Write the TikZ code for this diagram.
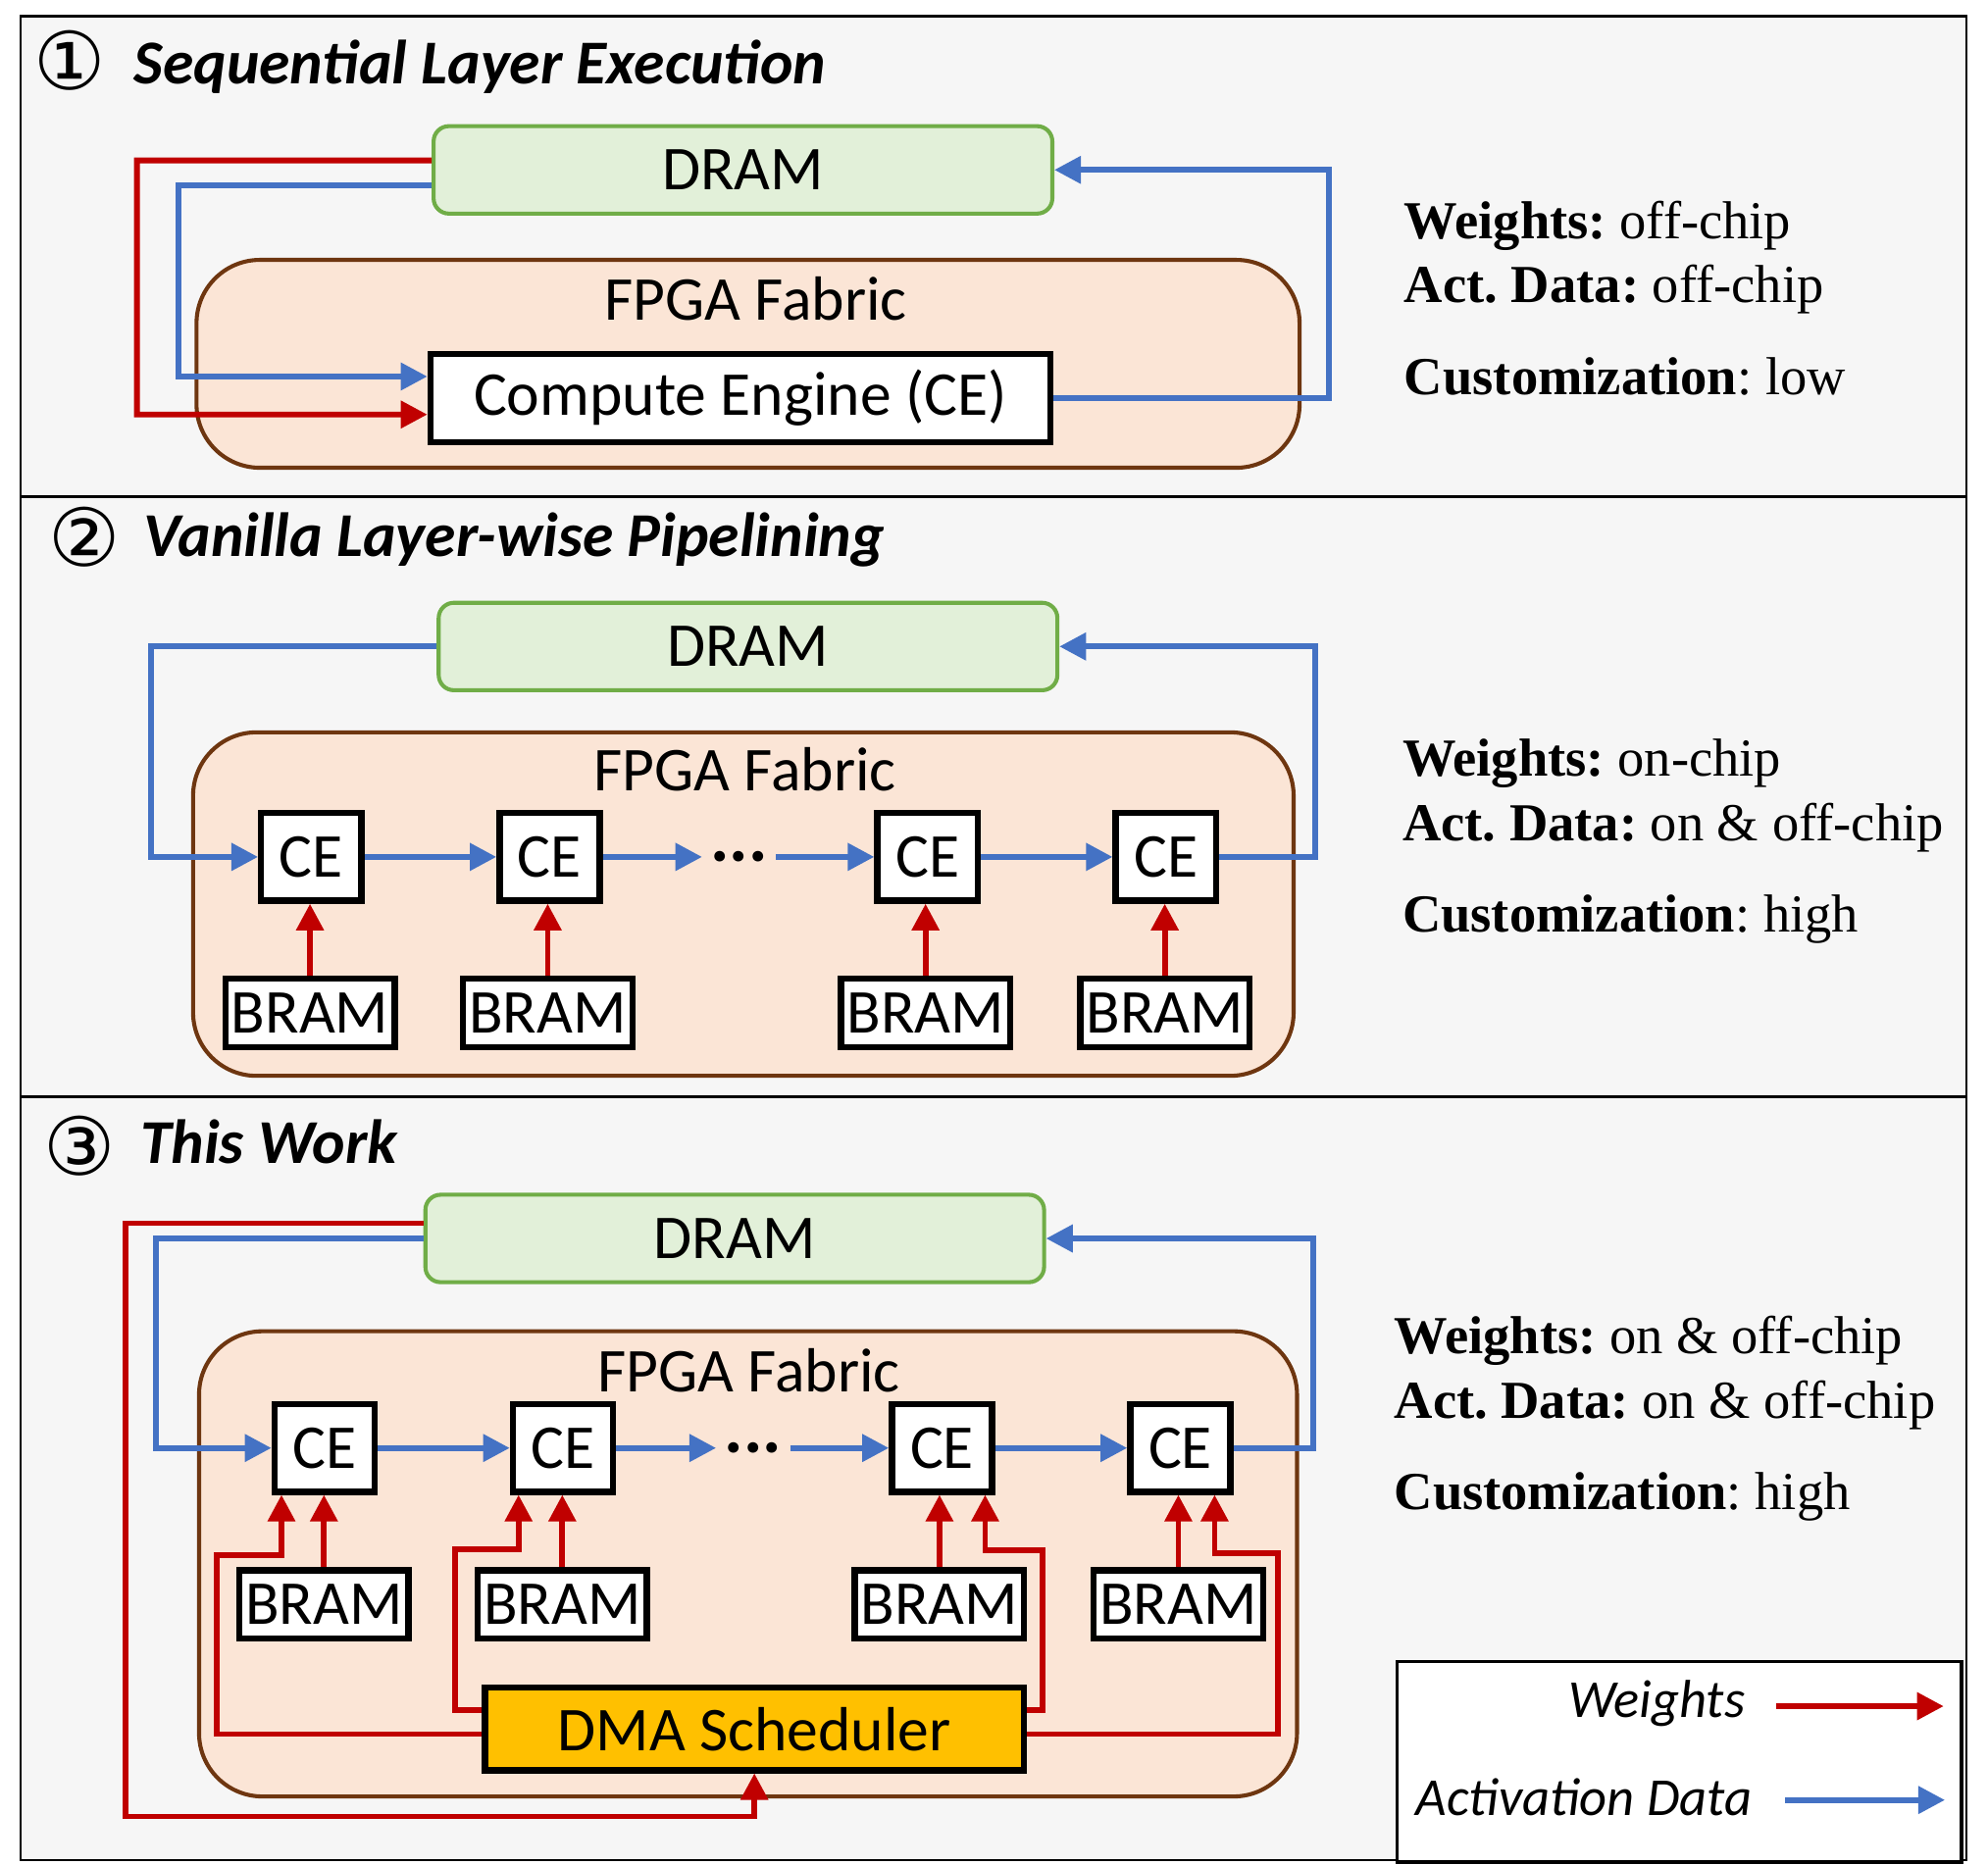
\documentclass[tikz,border=0pt]{standalone}
\usepackage{fontspec}
\setmainfont{Carlito}
\newfontfamily\specfont{Liberation Serif}
\newfontfamily\numfont{DejaVu Sans}
\usetikzlibrary{arrows.meta}
\frenchspacing

\definecolor{wred}{HTML}{C00000}
\definecolor{ablue}{HTML}{4472C4}
\definecolor{dramline}{HTML}{70AD47}
\definecolor{dramfill}{HTML}{E2F0D9}
\definecolor{fabline}{HTML}{6E3610}
\definecolor{fabfill}{HTML}{FBE5D6}
\definecolor{dmafill}{HTML}{FFC000}
\definecolor{panelbg}{HTML}{F6F6F6}

\begin{document}
\begin{tikzpicture}
[font=\fontsize{14}{17}\selectfont,
every node/.style={inner sep=0pt},
dram/.style={draw=dramline, fill=dramfill, line width=0.9pt, rounded corners=0.12cm,
  minimum width=4.88cm, minimum height=0.69cm},
fabric/.style={draw=fabline, fill=fabfill, line width=0.9pt, rounded corners=0.5cm},
cebox/.style={draw, fill=white, line width=1.4pt, minimum width=0.79cm, minimum height=0.69cm},
brambox/.style={draw, fill=white, line width=1.4pt, minimum width=1.335cm, minimum height=0.54cm},
dmabox/.style={draw, fill=dmafill, line width=1.4pt, minimum width=4.25cm, minimum height=0.65cm},
dotsbox/.style={inner sep=0.06cm, font=\bfseries\fontsize{16}{16}\selectfont},
wline/.style={draw=wred, line width=1.3pt, -{Triangle[length=0.21cm,width=0.21cm]}},
aline/.style={draw=ablue, line width=1.3pt, -{Triangle[length=0.21cm,width=0.21cm]}},
num/.style={font=\numfont\fontsize{18}{18}\selectfont},
title/.style={anchor=base west, font=\bfseries\itshape\fontsize{14}{17}\selectfont},
spec/.style={anchor=base west, font=\specfont\fontsize{12}{14}\selectfont}]

\useasboundingbox (0,0) rectangle (15.68,-14.71);
\draw[line width=0.6pt, fill=panelbg] (0.162,-0.129) rectangle (15.51,-14.675);
\draw[line width=0.6pt] (0.162,-3.92) -- (15.51,-3.92);
\draw[line width=0.6pt] (0.162,-8.65) -- (15.51,-8.65);

% sequential layer execution
\node[num] (n1) at (0.55,-0.48) {①};
\node[title] (t1) at (1.05,-0.66) {Sequential Layer Execution};
\node[fabric, minimum width=8.70cm, minimum height=1.64cm] (fabA) at (5.90,-2.87) {};
\node[anchor=base] (fabAl) at (5.96,-2.527) {FPGA Fabric};
\node[dram] (dramA) at (5.86,-1.34) {DRAM};
\node[cebox, minimum width=4.89cm, minimum height=0.695cm] (ceA) at (5.84,-3.14) {Compute Engine (CE)};
\draw[wline] ([yshift=0.075cm]dramA.west) -| (1.08,-3.27) -- ([yshift=-0.13cm]ceA.west);
\draw[aline] ([yshift=-0.12cm]dramA.west) -| (1.41,-2.97) -- ([yshift=0.17cm]ceA.west);
\draw[aline] (ceA.east) -- (10.48,-3.14) |- (dramA.east);
\node[spec] (sA1) at (11.07,-1.88) {\textbf{Weights:} off-chip};
\node[spec] (sA2) at (11.07,-2.39) {\textbf{Act. Data:} off-chip};
\node[spec] (sA3) at (11.07,-3.11) {\textbf{Customization}: low};

% vanilla layer-wise pipelining
\node[num] (n2) at (0.665,-4.24) {②};
\node[title] (t2) at (1.13,-4.39) {Vanilla Layer-wise Pipelining};
\node[fabric, minimum width=8.68cm, minimum height=2.71cm] (fabB) at (5.863,-7.132) {};
\node[anchor=base] (fabBl) at (5.875,-6.237) {FPGA Fabric};
\node[dram] (dramB) at (5.90,-5.10) {DRAM};
\node[cebox] (ceB1) at (2.455,-6.76) {CE};
\node[cebox] (ceB2) at (4.335,-6.76) {CE};
\node[dotsbox] (dotsB) at (5.83,-6.76) {...};
\node[cebox] (ceB3) at (7.315,-6.76) {CE};
\node[cebox] (ceB4) at (9.195,-6.76) {CE};
\node[brambox] (bramB1) at (2.445,-7.99) {BRAM};
\node[brambox] (bramB2) at (4.32,-7.99) {BRAM};
\node[brambox] (bramB3) at (7.30,-7.99) {BRAM};
\node[brambox] (bramB4) at (9.187,-7.99) {BRAM};
\draw[aline] (dramB.west) -| (1.19,-6.76) -- (ceB1.west);
\draw[aline] (ceB1) -- (ceB2);
\draw[aline] (ceB2) -- (dotsB);
\draw[aline] (dotsB) -- (ceB3);
\draw[aline] (ceB3) -- (ceB4);
\draw[aline] (ceB4.east) -- (10.37,-6.76) |- (dramB.east);
\draw[wline] (bramB1) -- (bramB1 |- ceB1.south);
\draw[wline] (bramB2) -- (bramB2 |- ceB2.south);
\draw[wline] (bramB3) -- (bramB3 |- ceB3.south);
\draw[wline] (bramB4) -- (bramB4 |- ceB4.south);
\node[spec] (sB1) at (11.055,-6.12) {\textbf{Weights:} on-chip};
\node[spec] (sB2) at (11.055,-6.63) {\textbf{Act. Data:} on \& off-chip};
\node[spec] (sB3) at (11.055,-7.35) {\textbf{Customization}: high};

% this work
\node[num] (n3) at (0.625,-9.04) {③};
\node[title] (t3) at (1.10,-9.18) {This Work};
\node[fabric, minimum width=8.66cm, minimum height=3.67cm] (fabC) at (5.90,-12.337) {};
\node[anchor=base] (fabCl) at (5.906,-10.98) {FPGA Fabric};
\node[dram] (dramC) at (5.795,-9.77) {DRAM};
\node[cebox] (ceC1) at (2.56,-11.423) {CE};
\node[cebox] (ceC2) at (4.44,-11.423) {CE};
\node[dotsbox] (dotsC) at (5.94,-11.423) {...};
\node[cebox] (ceC3) at (7.43,-11.423) {CE};
\node[cebox] (ceC4) at (9.31,-11.423) {CE};
\node[brambox] (bramC1) at (2.555,-12.657) {BRAM};
\node[brambox] (bramC2) at (4.435,-12.657) {BRAM};
\node[brambox] (bramC3) at (7.41,-12.657) {BRAM};
\node[brambox] (bramC4) at (9.294,-12.657) {BRAM};
\node[dmabox] (dma) at (5.95,-13.64) {DMA Scheduler};
\draw[aline] (dramC.west) -| (1.23,-11.423) -- (ceC1.west);
\draw[aline] (ceC1) -- (ceC2);
\draw[aline] (ceC2) -- (dotsC);
\draw[aline] (dotsC) -- (ceC3);
\draw[aline] (ceC3) -- (ceC4);
\draw[aline] (ceC4.east) -- (10.36,-11.423) |- (dramC.east);
\draw[wline] (bramC1) -- (bramC1 |- ceC1.south);
\draw[wline] (bramC2) -- (bramC2 |- ceC2.south);
\draw[wline] (bramC3) -- (bramC3 |- ceC3.south);
\draw[wline] (bramC4) -- (bramC4 |- ceC4.south);
\draw[wline] ([yshift=-0.04cm]dma.west) -| (1.71,-12.27) -| ([xshift=-0.34cm]ceC1.south);
\draw[wline] ([yshift=0.15cm]dma.west) -| (3.59,-12.22) -| ([xshift=-0.35cm]ceC2.south);
\draw[wline] ([yshift=0.15cm]dma.east) -| (8.22,-12.23) -| ([xshift=0.34cm]ceC3.south);
\draw[wline] ([yshift=-0.04cm]dma.east) -| (10.08,-12.25) -| ([xshift=0.27cm]ceC4.south);
\draw[wline] ([yshift=0.12cm]dramC.west) -| (0.99,-14.33) -| (dma.south);
\node[spec] (sC1) at (10.99,-10.68) {\textbf{Weights:} on \& off-chip};
\node[spec] (sC2) at (10.99,-11.19) {\textbf{Act. Data:} on \& off-chip};
\node[spec] (sC3) at (10.99,-11.91) {\textbf{Customization}: high};

% legend
\node[draw, fill=white, line width=0.8pt, minimum width=4.45cm, minimum height=1.58cm] (legend) at (13.245,-13.898) {};
\node[anchor=base east, font=\itshape\fontsize{12}{14}\selectfont] (lgW) at (13.77,-13.55) {Weights};
\node[anchor=base west, font=\itshape\fontsize{12}{14}\selectfont] (lgA) at (11.16,-14.32) {Activation Data};
\coordinate (lgW1) at (14.01,-13.46);
\coordinate (lgW2) at (15.33,-13.46);
\coordinate (lgA1) at (14.08,-14.20);
\coordinate (lgA2) at (15.34,-14.20);
\draw[wline] (lgW1) -- (lgW2);
\draw[aline] (lgA1) -- (lgA2);
\end{tikzpicture}
\end{document}
